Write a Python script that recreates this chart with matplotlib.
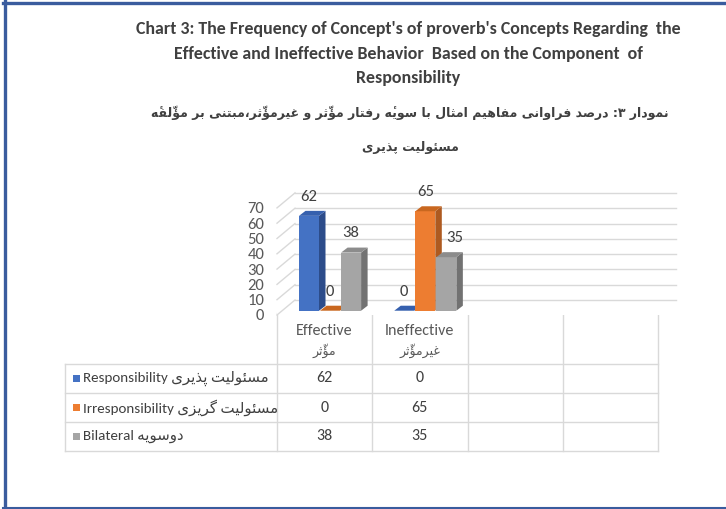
import unicodedata
import matplotlib
matplotlib.use("Agg")
import matplotlib.pyplot as plt
from matplotlib.patches import Polygon, Rectangle

# ---- data ----
categories = ["Effective", "Ineffective", "", ""]
categories_fa = ["مؤثّر", "غیرمؤثّر", "", ""]
series = ["Responsibility", "Irresponsibility", "Bilateral"]
series_fa = ["مسئولیت پذیری", " مسئولیت گریزی", " دوسویه"]
responsibility = [62, 0]
irresponsibility = [0, 65]
bilateral = [38, 35]
values = [responsibility, irresponsibility, bilateral]
yticks = [0, 10, 20, 30, 40, 50, 60, 70]

title_en = ["Chart 3: The Frequency of Concept's of proverb's Concepts Regarding  the",
            "Effective and Ineffective Behavior  Based on the Component  of",
            "Responsibility"]
title_fa = ["نمودار ۳: درصد فراوانی مفاهیم امثال با سویهٔ رفتار مؤثّر و غیرمؤثّر،مبتنی بر مؤلّفهٔ",
            "مسئولیت پذیری"]

front = ["#4472C4", "#ED7D31", "#A5A5A5"]
side = ["#2C4C8A", "#AE5A20", "#727272"]
top = ["#3660AE", "#C9671F", "#8C8C8C"]

# ---- minimal Persian shaping (matplotlib has no complex text layout) ----
_forms = {
    'آ': (0xFE81, 2), 'ؤ': (0xFE85, 2), 'ئ': (0xFE89, 4), 'ا': (0xFE8D, 2),
    'ب': (0xFE8F, 4), 'ت': (0xFE95, 4), 'ث': (0xFE99, 4), 'ج': (0xFE9D, 4),
    'ح': (0xFEA1, 4), 'خ': (0xFEA5, 4), 'د': (0xFEA9, 2), 'ذ': (0xFEAB, 2),
    'ر': (0xFEAD, 2), 'ز': (0xFEAF, 2), 'س': (0xFEB1, 4), 'ش': (0xFEB5, 4),
    'ص': (0xFEB9, 4), 'ض': (0xFEBD, 4), 'ط': (0xFEC1, 4), 'ظ': (0xFEC5, 4),
    'ع': (0xFEC9, 4), 'غ': (0xFECD, 4), 'ف': (0xFED1, 4), 'ق': (0xFED5, 4),
    'ل': (0xFEDD, 4), 'م': (0xFEE1, 4), 'ن': (0xFEE5, 4), 'ه': (0xFEE9, 4),
    'و': (0xFEED, 2), 'پ': (0xFB56, 4), 'چ': (0xFB7A, 4), 'ژ': (0xFB8A, 2),
    'ک': (0xFB8E, 4), 'گ': (0xFB92, 4), 'ی': (0xFBFC, 4),
}


def _mark(c):
    return unicodedata.combining(c) != 0


def fa(text):
    chars = list(text)
    out = []
    for i, c in enumerate(chars):
        if c not in _forms:
            out.append(c)
            continue
        j = i - 1
        while j >= 0 and _mark(chars[j]):
            j -= 1
        k = i + 1
        while k < len(chars) and _mark(chars[k]):
            k += 1
        prev = chars[j] if j >= 0 else None
        nxt = chars[k] if k < len(chars) else None
        jp = prev in _forms and _forms[prev][1] == 4
        jn = _forms[c][1] == 4 and nxt in _forms
        form = 3 if (jp and jn) else 1 if jp else 2 if jn else 0
        out.append(chr(_forms[c][0] + form))
    clusters = []
    for c in out:
        if _mark(c) and clusters:
            clusters[-1] += c
        else:
            clusters.append(c)
    return "".join(reversed(clusters))


LAT = ["Carlito", "Lato", "DejaVu Sans"]
W, H = 726, 509
fig = plt.figure(figsize=(W / 100, H / 100), dpi=100)

# page overlay in pixel units (frame, titles, table)
pg = fig.add_axes([0, 0, 1, 1])
pg.set_xlim(0, W)
pg.set_ylim(H, 0)
pg.axis("off")
pg.plot([4.5, 4.5], [1, H], color="#3A5C9E", lw=2.4)
pg.plot([3, W], [2.5, 2.5], color="#3A5C9E", lw=2.4)
pg.plot([3, W], [H - 1, H - 1], color="#3A5C9E", lw=1.5)

for line, y in zip(title_en, [29, 53.5, 78]):
    pg.text(408, y, line, ha="center", va="center", fontsize=12.9, fontweight="bold",
            family=LAT, color="#404040")
for line, y in zip(title_fa, [113, 147]):
    pg.text(410, y, fa(line), ha="center", va="center", fontsize=9,
            fontweight="bold", family=["DejaVu Sans"], color="#404040")

# ---- bar chart, front plane: x in categories, y in values ----
x0, x1, y0, ppu_x, ppu_y = 277, 700, 315, 95.25, 1.53
ax = fig.add_axes([x0 / W, 1 - y0 / H, (x1 - x0) / W, (y0 - 165) / H])
ax.set_xlim(0, (x1 - x0) / ppu_x)
ax.set_ylim(0, (y0 - 165) / ppu_y)
for s in ax.spines.values():
    s.set_visible(False)
ax.set_xticks([])
ax.set_yticks(yticks)
ax.tick_params(axis="y", length=0, pad=9, labelsize=12, labelcolor="#595959")
for lab in ax.get_yticklabels():
    lab.set_family(LAT)

wall_dx, wall_dy = 18 / ppu_x, 15 / ppu_y
ncat = len(categories)
for v in yticks:
    ax.plot([wall_dx, ncat + wall_dx], [v + wall_dy, v + wall_dy], color="#D9D9D9", lw=1,
            clip_on=False, zorder=1)
    ax.plot([0, wall_dx], [v, v + wall_dy], color="#D9D9D9", lw=1, clip_on=False, zorder=1)

bw, step, start, base = 0.21, 0.221, 0.231, 2.8
bdx, bdy = 6.5 / ppu_x, 5 / ppu_y
# labels that Excel pushed sideways to clear a neighbouring bar
label_nudge = {(2, 1): 0.09}
for si, vals in enumerate(values):
    for ci, v in enumerate(vals):
        xl = ci + start + si * step
        xr = xl + bw
        yb, yt = base, base + v
        ax.add_patch(Rectangle((xl, yb), bw, v, facecolor=front[si], edgecolor="none",
                               zorder=3, clip_on=False))
        ax.add_patch(Polygon([(xr, yb), (xr + bdx, yb + bdy), (xr + bdx, yt + bdy), (xr, yt)],
                             facecolor=side[si], edgecolor="none", zorder=3, clip_on=False))
        ax.add_patch(Polygon([(xl, yt), (xl + bdx, yt + bdy), (xr + bdx, yt + bdy), (xr, yt)],
                             facecolor=top[si], edgecolor="none", zorder=3, clip_on=False))
        ax.text(xl + bw / 2 + label_nudge.get((si, ci), 0), yt + 12.5, str(v),
                ha="center", va="center", fontsize=12, family=LAT, color="#404040", zorder=4)

# ---- data table ----
tl, tc, tr = 65, 277, 658
row_y = [364, 393, 422, 451]
head_top = 313
cw = (tr - tc) / ncat
grid = "#D9D9D9"
for y in row_y:
    pg.plot([tl, tr], [y, y], color=grid, lw=1)
pg.plot([tl, tl], [row_y[0], row_y[-1]], color=grid, lw=1)
for i in range(ncat + 1):
    pg.plot([tc + i * cw] * 2, [head_top, row_y[-1]], color=grid, lw=1)

for i, (c, cf) in enumerate(zip(categories, categories_fa)):
    cx = tc + (i + 0.5) * cw
    if c:
        pg.text(cx, 331, c, ha="center", va="center", fontsize=11.5, family=LAT, color="#595959")
        pg.text(cx, 351, fa(cf), ha="center", va="center", fontsize=9,
                family=["DejaVu Sans"], color="#595959")

for r, (name, name_fa, vals) in enumerate(zip(series, series_fa, values)):
    cy = (row_y[r] + row_y[r + 1]) / 2
    pg.add_patch(Rectangle((73, cy - 3.5), 7, 7, facecolor=front[r], edgecolor="none"))
    pg.text(83, cy, name + " " + fa(name_fa), ha="left", va="center", fontsize=10.8,
            family=LAT, color="#404040")
    for i, v in enumerate(vals):
        pg.text(tc + (i + 0.5) * cw, cy, str(v), ha="center", va="center", fontsize=11.5,
                family=LAT, color="#404040")

fig.savefig("out.png", dpi=100)
